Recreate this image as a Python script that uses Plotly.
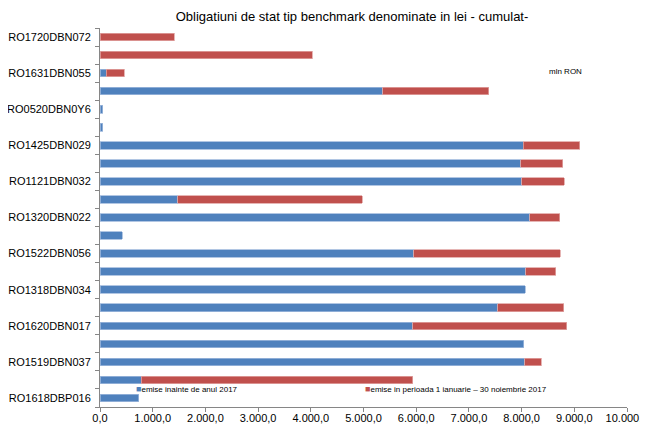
import plotly.graph_objects as go

categories = ["RO1720DBN072", "", "RO1631DBN055", "", "RO0520DBN0Y6", "",
              "RO1425DBN029", "", "RO1121DBN032", "", "RO1320DBN022", "",
              "RO1522DBN056", "", "RO1318DBN034", "", "RO1620DBN017", "",
              "RO1519DBN037", "", "RO1618DBP016"]
before_2017 = [0, 0, 120, 5365, 50, 50, 8030, 7985, 8005, 1475, 8155, 425,
               5955, 8077, 8070, 7545, 5937, 8038, 8057, 784, 737]
in_2017 = [1410, 4025, 340, 2010, 0, 0, 1070, 795, 800, 3505, 570, 0,
           2775, 570, 0, 1250, 2915, 0, 317, 5150, 0]
x_ticks = [0, 1000, 2000, 3000, 4000, 5000, 6000, 7000, 8000, 9000, 10000]
x_tick_labels = ["0,0", "1.000,0", "2.000,0", "3.000,0", "4.000,0", "5.000,0",
                 "6.000,0", "7.000,0", "8.000,0", "9.000,0", "10.000,0"]
series_names = ["emise inainte de anul 2017",
                "emise in perioada 1 ianuarie \u2013 30 noiembrie 2017"]
colors = ["#4F81BD", "#C0504D"]
edge_colors = ["#9DB8DC", "#E0A3A1"]

ypos = list(range(len(categories)))
label_idx = [i for i, c in enumerate(categories) if c]

fig = go.Figure()
for vals, name, col, edge in zip([before_2017, in_2017], series_names, colors, edge_colors):
    fig.add_trace(go.Bar(y=ypos, x=vals, orientation="h", name=name,
                         marker=dict(color=col,
                                     line=dict(color=edge,
                                               width=[0.8 if v > 0 else 0 for v in vals])),
                         width=0.42, showlegend=False))

# the page body adds an 8px offset; figure coordinates are shifted accordingly
OFF = 8
W, H = 648, 425 - OFF
L, R, T, B = 100 - OFF, 648 - (627 - OFF), 28 - OFF, 18
pw, ph = W - L - R, H - T - B

def px(x):
    return (x - OFF - L) / pw

def py(y):
    return 1 - (y - OFF - T) / ph

annotations = [dict(text="mln RON", xref="paper", yref="paper", x=px(565), y=py(72),
                    showarrow=False, font=dict(size=8), xanchor="center", yanchor="middle")]
legend_x = [134, 363]
for lx, name, col in zip(legend_x, series_names, colors):
    annotations.append(dict(
        text='<span style="color:%s;font-size:9px">\u25A0</span>%s' % (col, name),
        xref="paper", yref="paper", x=px(lx), y=py(389), xanchor="left",
        yanchor="middle", showarrow=False, font=dict(size=8)))

fig.update_layout(
    barmode="stack",
    width=W, height=H,
    margin=dict(l=L, r=R, t=T, b=B, autoexpand=False),
    paper_bgcolor="white", plot_bgcolor="white",
    font=dict(family="Liberation Sans, Arial, sans-serif", size=11, color="#000000"),
    title=dict(text="Obligatiuni de stat tip benchmark denominate in lei - cumulat-",
               x=(352 - OFF) / W, xanchor="center", y=1 - (16 - OFF) / H, yanchor="middle",
               font=dict(size=13, color="#000000")),
    xaxis=dict(range=[0, 10000], tickvals=x_ticks, ticktext=x_tick_labels,
               showgrid=False, zeroline=False, showline=True, linecolor="#868686",
               linewidth=1, ticks="outside", ticklen=4, tickcolor="#868686",
               ticklabelstandoff=-3, ticklabeloverflow="allow",
               tickfont=dict(size=11), automargin=False),
    yaxis=dict(range=[len(categories) - 0.5, -0.5], tickvals=label_idx,
               ticktext=[categories[i] for i in label_idx],
               showgrid=False, zeroline=False, showline=True, linecolor="#868686",
               linewidth=1, ticks="", ticklabelstandoff=6, automargin=False,
               tickfont=dict(size=11),
               minor=dict(tick0=-0.5, dtick=1, ticks="outside", ticklen=4,
                          tickcolor="#868686", showgrid=False)),
    annotations=annotations,
    showlegend=False,
)

fig.write_html("out.html")
